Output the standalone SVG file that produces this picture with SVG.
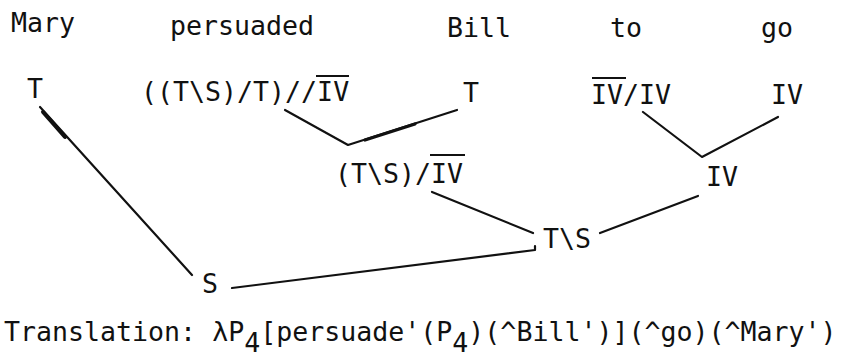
<svg xmlns="http://www.w3.org/2000/svg" width="849" height="358" viewBox="0 0 849 358">
<style>
text{font-family:"DejaVu Sans Mono","Liberation Mono",monospace;font-size:26.6px;fill:#111}
.c{stroke:#111;stroke-width:2.2;fill:none;stroke-linecap:round;stroke-linejoin:round}
.k{stroke:#111;stroke-width:4;fill:none;stroke-linecap:round}
.o{stroke:#111;stroke-width:1.8}
</style>
<rect width="849" height="358" fill="#fff"/>
<g id="words">
<text x="11" y="32">Mary</text>
<text x="170" y="35">persuaded</text>
<text x="447" y="37">Bill</text>
<text x="610" y="37">to</text>
<text x="761" y="37">go</text>
</g>
<g id="n-mary-T"><text x="27" y="98">T</text></g>
<g id="n-persuaded"><text x="141" y="101">((T\S)/T)//IV</text><line class="o" x1="316" y1="76" x2="349" y2="76"/></g>
<g id="n-bill-T"><text x="463" y="102">T</text></g>
<g id="n-to"><text x="591" y="104">IV/IV</text><line class="o" x1="592" y1="78" x2="626" y2="78"/></g>
<g id="n-go"><text x="771" y="104">IV</text></g>
<g id="n-TS-IV"><text x="335" y="183">(T\S)/IV</text><line class="o" x1="430" y1="155" x2="465" y2="155"/></g>
<g id="n-IV"><text x="706" y="186">IV</text></g>
<g id="n-TS"><text x="543" y="248">T\S</text></g>
<g id="n-S"><text x="202" y="293">S</text></g>
<g id="connectors">
<path class="c" d="M40,107 L192,275"/>
<path class="k" d="M43,112 L65,137"/>
<path class="c" d="M285,110 L348,145 L457,110"/>
<path class="k" d="M365,140 L415,124" style="stroke-width:3.2"/>
<path class="c" d="M643,112 L702,157 L778,117"/>
<path class="c" d="M432,192 L533,233"/>
<path class="c" d="M698,196 L600,233"/>
<path class="c" d="M232,288 L535,250 L535,246"/>
</g>
<g id="translation">
<text x="4" y="341">Translation: λP<tspan dy="11">4</tspan><tspan dy="-11">[persuade'(P</tspan><tspan dy="11">4</tspan><tspan dy="-11">)(^Bill')](^go)(^Mary')</tspan></text>
</g>
</svg>
